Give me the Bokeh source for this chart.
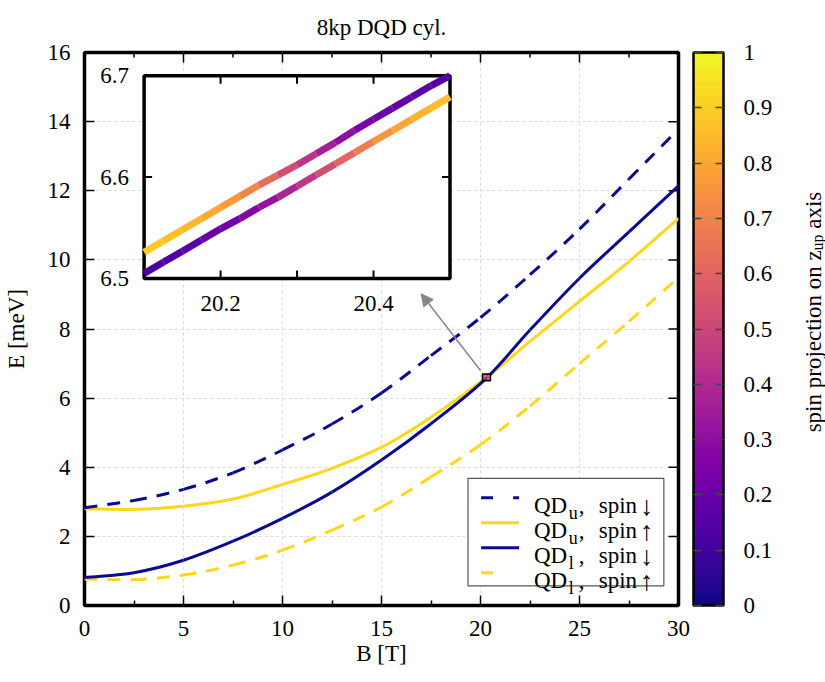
import math
from bokeh.plotting import figure
from bokeh.layouts import row
from bokeh.models import (ColumnDataSource, ColorBar, LinearColorMapper, Label,
                          BoxAnnotation, Arrow, NormalHead, SingleIntervalTicker, FixedTicker,
                          NumeralTickFormatter, LinearInterpolator)
from bokeh.transform import transform, linear_cmap
from bokeh.palettes import Plasma256
from bokeh.core.properties import value
from bokeh.embed import file_html
from bokeh.resources import INLINE

FONT = "'Liberation Serif', serif"
NAVY = "#0b0b8f"
GOLD = "#fbd81e"

title_text = "8kp DQD cyl."
x_label = "B [T]"
y_label = "E [meV]"
cbar_label = ["spin projection on z", "up", "axis"]

x_ticks = [0, 5, 10, 15, 20, 25, 30]
x_minor = [2.5, 7.5, 12.5, 17.5, 22.5, 27.5]
y_ticks = [0, 2, 4, 6, 8, 10, 12, 14, 16]

# ---- main curves ----
# dashed curves
B = [0, 2.5, 5, 7.5, 10, 12.5, 15, 17.5, 20, 22.5, 25, 27.5, 30]
E_qdu_down = [2.83, 3.04, 3.36, 3.84, 4.50, 5.25, 6.15, 7.23, 8.33, 9.57, 10.89, 12.34, 13.78]
E_qdl_up = [0.77, 0.75, 0.88, 1.17, 1.60, 2.18, 2.85, 3.72, 4.65, 5.77, 7.00, 8.22, 9.49]
# solid curves (they meet at the anticrossing, B = 20.3 T)
B_s = [0, 2.5, 5, 7.5, 10, 12.5, 15, 17.5, 20.3, 22.5, 25, 27.5, 30]
E_qdu_up = [2.80, 2.78, 2.87, 3.08, 3.50, 3.97, 4.58, 5.45, 6.60, 7.64, 8.80, 9.95, 11.20]
E_qdl_down = [0.81, 0.95, 1.31, 1.86, 2.52, 3.28, 4.21, 5.26, 6.58, 7.97, 9.47, 10.81, 12.14]

leg_subs = ["u", "u", "l", "l"]
leg_arrows = ["\u2193", "\u2191", "\u2193", "\u2191"]

# ---- inset (anticrossing) ----
B_in = [20.1, 20.125, 20.15, 20.175, 20.2, 20.225, 20.25, 20.275, 20.3,
        20.325, 20.35, 20.375, 20.4, 20.425, 20.45, 20.475, 20.5]
E_in_a = [6.526, 6.537, 6.548, 6.559, 6.570, 6.581, 6.592, 6.602, 6.612,
          6.623, 6.634, 6.646, 6.657, 6.668, 6.679, 6.690, 6.701]
E_in_b = [6.505, 6.516, 6.527, 6.538, 6.549, 6.559, 6.570, 6.580, 6.591,
          6.602, 6.613, 6.624, 6.635, 6.646, 6.657, 6.668, 6.679]
S_in_a = [0.90, 0.88, 0.86, 0.83, 0.79, 0.74, 0.67, 0.58, 0.48,
          0.40, 0.33, 0.27, 0.22, 0.19, 0.17, 0.16, 0.15]
S_in_b = [0.12, 0.13, 0.15, 0.17, 0.20, 0.24, 0.29, 0.35, 0.41,
          0.49, 0.57, 0.65, 0.72, 0.78, 0.82, 0.85, 0.87]
inset_x_range = [20.1, 20.5]
inset_y_range = [6.5, 6.7]
inset_x_ticks = [20.2, 20.3, 20.4]
inset_x_ticklabels = ["20.2", "", "20.4"]
inset_y_ticks = [6.5, 6.6, 6.7]
inset_y_ticklabels = ["6.5", "6.6", "6.7"]

# where the inset sits (main-plot units)
INSET_BOX_X = [3.01, 18.46]
INSET_BOX_Y = [9.46, 15.33]

p = figure(width=785, height=682, x_range=(0, 30), y_range=(0, 16),
           output_backend="svg", toolbar_location=None,
           min_border_left=83, min_border_right=107, min_border_top=52, min_border_bottom=77,
           title=title_text)
p.background_fill_color = "white"
p.border_fill_color = "white"
p.outline_line_color = "black"
p.outline_line_width = 3.5

p.title.text_font = FONT
p.title.text_font_size = "23px"
p.title.text_font_style = "normal"
p.title.align = "center"
p.title.text_color = "black"
p.title.standoff = 25

xt = FixedTicker(ticks=x_ticks, minor_ticks=x_minor)
yt = FixedTicker(ticks=y_ticks)
p.xaxis.ticker = xt
p.yaxis.ticker = yt

for ax in (p.xaxis[0], p.yaxis[0]):
    ax.axis_line_color = None
    ax.major_tick_in = 10
    ax.major_tick_out = 0
    ax.minor_tick_in = 5
    ax.minor_tick_out = 0
    ax.major_tick_line_width = 1.5
    ax.minor_tick_line_width = 1.5
    ax.major_tick_line_color = "black"
    ax.minor_tick_line_color = "black"
    ax.major_label_text_font = FONT
    ax.major_label_text_font_size = "23px"
    ax.major_label_text_color = "black"
    ax.axis_label_text_font = FONT
    ax.axis_label_text_font_size = "23px"
    ax.axis_label_text_font_style = "normal"
    ax.axis_label_text_color = "black"
p.xaxis.axis_label = x_label
p.yaxis.axis_label = y_label
p.xaxis.major_label_standoff = 15
p.xaxis.axis_label_standoff = 2
p.yaxis.major_label_standoff = 14
p.yaxis.axis_label_standoff = 16
p.yaxis.minor_tick_line_color = None

for g in (p.xgrid, p.ygrid):
    g.grid_line_color = "#d9d9d9"
    g.grid_line_dash = "3 3"
    g.grid_line_width = 1

# mirrored ticks on top and right
p.ray(x=x_ticks, y=[16] * len(x_ticks), angle=-math.pi / 2, length=10, length_units="screen",
      line_color="black", line_width=1.5)
p.ray(x=x_minor, y=[16] * len(x_minor), angle=-math.pi / 2, length=5, length_units="screen",
      line_color="black", line_width=1.5)
p.ray(x=[30] * len(y_ticks), y=y_ticks, angle=math.pi, length=10, length_units="screen",
      line_color="black", line_width=1.5)

# main curves: smooth cubic (Hermite) pieces through the read points
def smooth_through(xs, ys):
    n = len(xs)
    m = []
    for i in range(n):
        a, b = max(i - 1, 0), min(i + 1, n - 1)
        m.append((ys[b] - ys[a]) / (xs[b] - xs[a]))
    d = dict(x0=[], y0=[], x1=[], y1=[], cx0=[], cy0=[], cx1=[], cy1=[])
    for i in range(n - 1):
        h = xs[i + 1] - xs[i]
        d["x0"].append(xs[i]); d["y0"].append(ys[i])
        d["x1"].append(xs[i + 1]); d["y1"].append(ys[i + 1])
        d["cx0"].append(xs[i] + h / 3); d["cy0"].append(ys[i] + m[i] * h / 3)
        d["cx1"].append(xs[i + 1] - h / 3); d["cy1"].append(ys[i + 1] - m[i + 1] * h / 3)
    return ColumnDataSource(d)

DASH = "13 10"
for xs_, E_, col, dash in ((B, E_qdl_up, GOLD, DASH), (B_s, E_qdu_up, GOLD, "solid"),
                           (B_s, E_qdl_down, NAVY, "solid"), (B, E_qdu_down, NAVY, DASH)):
    p.bezier(x0="x0", y0="y0", x1="x1", y1="y1", cx0="cx0", cy0="cy0", cx1="cx1", cy1="cy1",
             source=smooth_through(xs_, E_), line_color=col, line_width=3, line_dash=dash)

# inset data as coloured segments
seg = dict(x0=[], y0=[], x1=[], y1=[], s=[])
for E_, S_ in ((E_in_a, S_in_a), (E_in_b, S_in_b)):
    for i in range(len(B_in) - 1):
        seg["x0"].append(B_in[i]); seg["x1"].append(B_in[i + 1])
        seg["y0"].append(E_[i]); seg["y1"].append(E_[i + 1])
        seg["s"].append(0.5 * (S_[i] + S_[i + 1]))
seg_src = ColumnDataSource(seg)
cmap = linear_cmap("s", Plasma256, 0, 1)

# small box on the main curves marking the zoomed region
box_src = ColumnDataSource(dict(l=[inset_x_range[0]], r=[inset_x_range[1]],
                                b=[inset_y_range[0]], t=[inset_y_range[1]]))
p.quad(left="l", right="r", bottom="b", top="t", source=box_src,
       fill_color="#b04a9a", fill_alpha=0.8, line_color=None)
p.segment("x0", "y0", "x1", "y1", source=seg_src, line_color=cmap, line_width=2)
p.quad(left="l", right="r", bottom="b", top="t", source=box_src,
       fill_color=None, line_color="black", line_width=1.5)

# inset drawn through linear maps into its box
tx = LinearInterpolator(x=inset_x_range, y=INSET_BOX_X, clip=False)
ty = LinearInterpolator(x=inset_y_range, y=INSET_BOX_Y, clip=False)
p.quad(left=transform("l", tx), right=transform("r", tx),
       bottom=transform("b", ty), top=transform("t", ty), source=box_src,
       fill_color="white", line_color="black", line_width=3.5)
p.segment(x0=transform("x0", tx), y0=transform("y0", ty),
          x1=transform("x1", tx), y1=transform("y1", ty),
          source=seg_src, line_color=cmap, line_width=7, line_cap="butt")

tick_x = inset_x_ticks + inset_x_ticks + [inset_x_range[0], inset_x_range[1]]
tick_y = [inset_y_range[0]] * 3 + [inset_y_range[1]] * 3 + [inset_y_ticks[1]] * 2
tick_a = [math.pi / 2] * 3 + [-math.pi / 2] * 3 + [0, math.pi]
p.ray(x=transform("x", tx), y=transform("y", ty), angle="a", length=8, length_units="screen",
      source=ColumnDataSource(dict(x=tick_x, y=tick_y, a=tick_a)),
      line_color="black", line_width=2)
p.text(x=transform("x", tx), y=transform("y", ty), text="t",
       source=ColumnDataSource(dict(x=inset_x_ticks, y=[inset_y_range[0]] * 3, t=inset_x_ticklabels)),
       text_font=value(FONT), text_font_size="23px", text_align="center",
       text_baseline="top", y_offset=17, text_color="black")
p.text(x=transform("x", tx), y=transform("y", ty), text="t",
       source=ColumnDataSource(dict(x=[inset_x_range[0]] * 3, y=inset_y_ticks, t=inset_y_ticklabels)),
       text_font=value(FONT), text_font_size="23px", text_align="right",
       text_baseline="middle", x_offset=-15, text_color="black")

# arrow from the marked region to the inset
p.add_layout(Arrow(x_start=20.0, y_start=6.8, x_end=17.0, y_end=9.02,
                   line_color="#888888", line_width=1.5,
                   end=NormalHead(size=12, fill_color="#888888", line_color="#888888")))

# legend (hand-built, for subscripts)
p.add_layout(BoxAnnotation(left=19.37, right=29.26, bottom=0.566, top=3.68,
                           fill_color="white", fill_alpha=1,
                           line_color="#555555", line_width=1.2, line_alpha=1))
leg_colors = [NAVY, GOLD, NAVY, GOLD]
leg_dash = ["12 20", "solid", "solid", "12 40"]
for k in range(4):
    ys = 3.116 - 0.7225 * k
    yb = 2.899 - 0.7225 * k
    p.add_layout(Arrow(x_start=20.03, y_start=ys, x_end=21.95, y_end=ys, start=None, end=None,
                       line_color=leg_colors[k], line_width=3, line_dash=leg_dash[k]))
    p.add_layout(Label(x=22.70, y=yb, text="QD", text_font=FONT, text_font_size="23px",
                       text_baseline="alphabetic", text_color="black"))
    p.add_layout(Label(x=24.46, y=yb - 0.23, text=leg_subs[k], text_font=FONT,
                       text_font_size="18px", text_baseline="alphabetic", text_color="black"))
    p.add_layout(Label(x=24.96, y=yb, text=",", text_font=FONT, text_font_size="23px",
                       text_baseline="alphabetic", text_color="black"))
    p.add_layout(Label(x=25.97, y=yb, text="spin", text_font=FONT, text_font_size="23px",
                       text_baseline="alphabetic", text_color="black"))
    p.add_layout(Label(x=28.05, y=yb - 0.03, text=leg_arrows[k], text_font=FONT,
                       text_font_size="27px", text_baseline="alphabetic", text_color="black"))

# colour bar
mapper = LinearColorMapper(palette=Plasma256, low=0, high=1)
cb = ColorBar(color_mapper=mapper, width=30, height=553, location=(15, 0), margin=0, padding=0,
              ticker=SingleIntervalTicker(interval=0.1, num_minor_ticks=0),
              formatter=NumeralTickFormatter(format="0.[0]"),
              major_label_text_font=FONT, major_label_text_font_size="23px",
              major_label_text_color="black", label_standoff=20,
              major_tick_in=30, major_tick_out=0, major_tick_line_color="#444444",
              major_tick_line_dash="8 14", major_tick_line_width=1.5,
              minor_tick_line_color=None, bar_line_color="black", bar_line_width=2.5,
              border_line_color=None, background_fill_color=None)
p.add_layout(cb, "right")

# narrow strip on the right carrying the colour-bar title (rotated, with subscript)
side = figure(width=40, height=682, x_range=(0, 40), y_range=(0, 16),
              output_backend="svg", toolbar_location=None,
              min_border_left=0, min_border_right=0, min_border_top=52, min_border_bottom=77,
              x_axis_location=None, y_axis_location=None)
side.outline_line_color = None
side.grid.visible = False
side.background_fill_color = "white"
side.border_fill_color = "white"
side.text(x=[28, 32, 28], y=[5.01, 10.27, 10.90], text=cbar_label,
          text_font_size=["23px", "16px", "23px"], angle=math.pi / 2,
          text_font=value(FONT), text_baseline="alphabetic", text_align="left",
          text_color="black")

layout = row(p, side, spacing=0)
open("out.html", "w").write(file_html(layout, INLINE))
